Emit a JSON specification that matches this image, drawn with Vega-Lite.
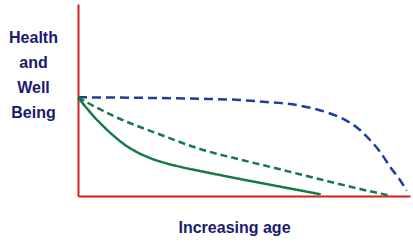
{
  "$schema": "https://vega.github.io/schema/vega-lite/v6.json",
  "width": 332,
  "height": 192,
  "autosize": {"type": "none"},
  "padding": {"left": 78, "top": 4, "right": 3, "bottom": 48},
  "background": "white",
  "config": {"view": {"stroke": null}},
  "data": {
    "values": [
      {"s": "optimal", "x": 0, "y": 98.7},
      {"s": "optimal", "x": 60, "y": 98.2},
      {"s": "optimal", "x": 120, "y": 97.3},
      {"s": "optimal", "x": 162, "y": 96},
      {"s": "optimal", "x": 185, "y": 94.3},
      {"s": "optimal", "x": 218.7, "y": 91},
      {"s": "optimal", "x": 248.7, "y": 83.7},
      {"s": "optimal", "x": 262, "y": 78.7},
      {"s": "optimal", "x": 272, "y": 73.3},
      {"s": "optimal", "x": 282, "y": 66},
      {"s": "optimal", "x": 292, "y": 56},
      {"s": "optimal", "x": 302, "y": 44.3},
      {"s": "optimal", "x": 312, "y": 29.3},
      {"s": "optimal", "x": 322, "y": 16},
      {"s": "optimal", "x": 328.7, "y": 5.3},
      {"s": "usual", "x": 0, "y": 98.7},
      {"s": "usual", "x": 18, "y": 88.7},
      {"s": "usual", "x": 40, "y": 78},
      {"s": "usual", "x": 82, "y": 61.5},
      {"s": "usual", "x": 122, "y": 47},
      {"s": "usual", "x": 162, "y": 36.5},
      {"s": "usual", "x": 202, "y": 26.7},
      {"s": "usual", "x": 242, "y": 16.7},
      {"s": "usual", "x": 282, "y": 7},
      {"s": "usual", "x": 313.7, "y": 0},
      {"s": "poor", "x": 0, "y": 98.7},
      {"s": "poor", "x": 8, "y": 88.7},
      {"s": "poor", "x": 18, "y": 77.2},
      {"s": "poor", "x": 28, "y": 67.2},
      {"s": "poor", "x": 38, "y": 58.2},
      {"s": "poor", "x": 48, "y": 50.4},
      {"s": "poor", "x": 58, "y": 44.4},
      {"s": "poor", "x": 68, "y": 39.6},
      {"s": "poor", "x": 78, "y": 35.8},
      {"s": "poor", "x": 88, "y": 32.8},
      {"s": "poor", "x": 98, "y": 30.2},
      {"s": "poor", "x": 108, "y": 27.9},
      {"s": "poor", "x": 122, "y": 25},
      {"s": "poor", "x": 162, "y": 17},
      {"s": "poor", "x": 202, "y": 9.4},
      {"s": "poor", "x": 242.7, "y": 1.7}
    ]
  },
  "mark": {"type": "line", "interpolate": "monotone", "strokeCap": "butt"},
  "encoding": {
    "x": {
      "field": "x", "type": "quantitative",
      "scale": {"domain": [0, 332], "nice": false, "zero": false},
      "axis": {
        "domainColor": "#cc2020", "domainWidth": 2, "ticks": false, "labels": false, "grid": false,
        "title": "Increasing age",
        "titleFont": "Liberation Sans", "titleFontSize": 16, "titleFontWeight": "bold",
        "titleColor": "#1a1a6e", "titleAlign": "center", "titleBaseline": "alphabetic",
        "titleX": 156, "titleY": 36
      }
    },
    "y": {
      "field": "y", "type": "quantitative",
      "scale": {"domain": [0, 192], "nice": false, "zero": false},
      "axis": {
        "domainColor": "#cc2020", "domainWidth": 2, "ticks": false, "labels": false, "grid": false,
        "title": ["Health", "and", "Well", "Being"],
        "titleFont": "Liberation Sans", "titleFontSize": 16, "titleFontWeight": "bold",
        "titleColor": "#1a1a6e", "titleAngle": 0, "titleAlign": "center", "titleBaseline": "alphabetic",
        "titleLineHeight": 25.3, "titleX": -45, "titleY": 38
      }
    },
    "detail": {"field": "s"},
    "color": {
      "field": "s", "type": "nominal",
      "scale": {"domain": ["optimal", "usual", "poor"], "range": ["#1d3f9b", "#167a48", "#167a48"]},
      "legend": null
    },
    "strokeDash": {
      "field": "s", "type": "nominal",
      "scale": {"domain": ["optimal", "usual", "poor"], "range": [[9, 5], [7, 4], [1, 0]]},
      "legend": null
    },
    "strokeWidth": {
      "field": "s", "type": "nominal",
      "scale": {"domain": ["optimal", "usual", "poor"], "range": [2.5, 2.5, 1.6]},
      "legend": null
    }
  }
}
